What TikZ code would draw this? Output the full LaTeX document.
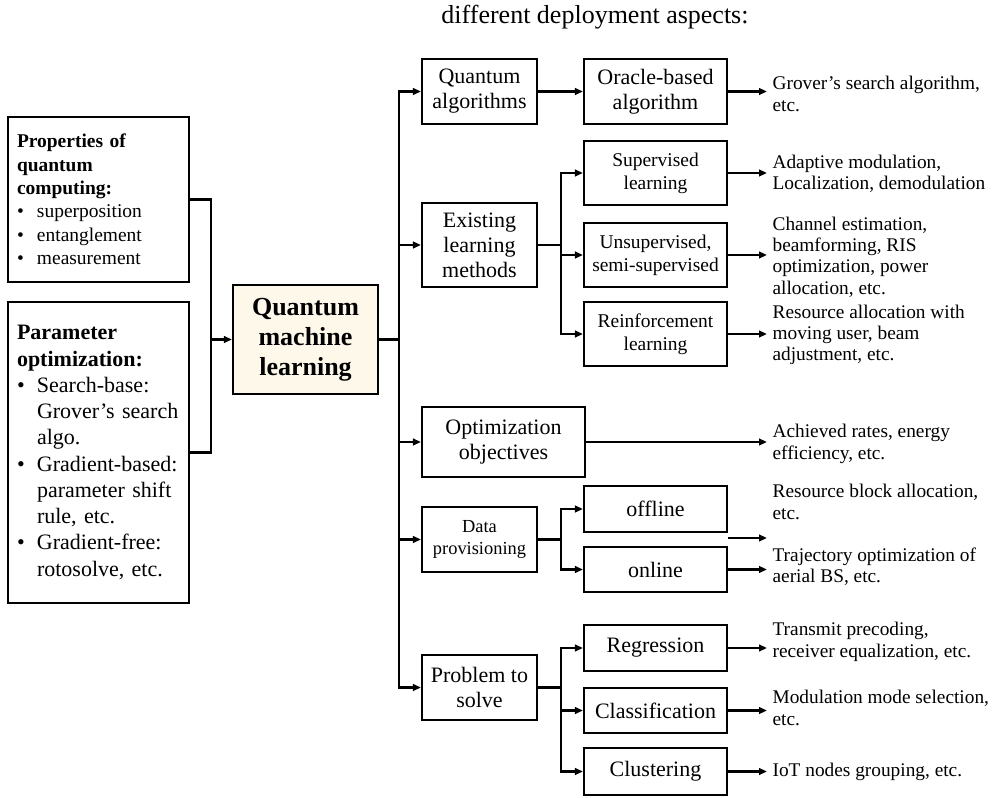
\documentclass[tikz,border=0pt]{standalone}
\usepackage{fontspec}
\setmainfont{Liberation Serif}
\usetikzlibrary{arrows.meta}

\definecolor{qmlcream}{RGB}{253,248,233}
\newcommand{\qbul}{\makebox[15pt][l]{\textbullet}}
\newcommand{\qind}{\hspace*{15pt}}

\tikzset{
  qbox/.style={draw, line width=1.6pt, inner sep=0pt, align=center},
  boxsize/.style 2 args={minimum width=#1*0.75pt, minimum height=#2*0.75pt},
  bigtxt/.style={font=\fontsize{16.5}{18.75}\selectfont},
  smalltxt/.style={font=\fontsize{14.6}{17.3}\selectfont},
  outtxt/.style={anchor=west, inner xsep=4pt, inner ysep=0pt, align=left, font=\fontsize{14.5}{16}\selectfont},
  conn/.style={line width=1.6pt},
  arr/.style={conn, -{Triangle[length=6pt,width=5pt]}},
}

\begin{document}
\begin{tikzpicture}[x=0.75pt,y=0.75pt,yscale=-1,xscale=1]
\useasboundingbox (0,0) rectangle (997,798);

% Text Node
\node (title) at (595,17) [font=\fontsize{19.5}{22}\selectfont] {different deployment aspects:};

%Shape: Rectangle [left inputs]
\node (props) at (98.5,199.5) [qbox, boxsize={181}{165}, text width=122.25pt, align=left, font=\fontsize{14.6}{17.5}\selectfont]
  {\textbf{Properties of}\\ \textbf{quantum}\\ \textbf{computing:}\\ \qbul superposition\\ \qbul entanglement\\ \qbul measurement};
\node (param) at (98.5,452.5) [qbox, boxsize={181}{301}, text width=122.25pt, align=left, font=\fontsize{16.5}{19.7}\selectfont]
  {\textbf{Parameter}\\ \textbf{optimization:}\\ \qbul Search-base:\\ \qind Grover's search\\ \qind algo.\\ \qbul Gradient-based:\\ \qind parameter shift\\ \qind rule, etc.\\ \qbul Gradient-free:\\ \qind rotosolve, etc.};

%Shape: Rectangle [centre]
\node (qml) at (305.5,339.5) [qbox, boxsize={145}{109}, fill=qmlcream, font=\bfseries\fontsize{19.5}{22.5}\selectfont] {Quantum\\ machine\\ learning};

%Shape: Rectangle [aspects]
\node (qalg) at (479.5,91.5) [qbox, boxsize={115}{65}, bigtxt] {Quantum\\ algorithms};
\node (exist) at (479.5,245) [qbox, boxsize={115}{84}, bigtxt] {Existing\\ learning\\ methods};
\node (optobj) at (503.5,442) [qbox, boxsize={163}{70}, bigtxt] {Optimization\\ objectives};
\node (data) at (479.5,539.5) [qbox, boxsize={115}{65}, font=\fontsize{13.8}{16.5}\selectfont] {Data\\ provisioning};
\node (prob) at (479.5,687.5) [qbox, boxsize={115}{65}, bigtxt] {Problem to\\ solve};

%Shape: Rectangle [sub aspects]
\node (oracle) at (655.5,91.5) [qbox, boxsize={143}{65}, bigtxt] {Oracle-based\\ algorithm};
\node (sup) at (655.5,173) [qbox, boxsize={143}{64}, smalltxt] {Supervised\\ learning};
\node (unsup) at (655.5,255) [qbox, boxsize={143}{64}, smalltxt] {Unsupervised,\\ semi-supervised};
\node (reinf) at (655.5,334) [qbox, boxsize={143}{64}, smalltxt] {Reinforcement\\ learning};
\node (offline) at (655.5,509) [qbox, boxsize={143}{46}, bigtxt] {offline};
\node (online) at (655.5,569.5) [qbox, boxsize={143}{45}, bigtxt] {online};
\node (regr) at (655.5,648) [qbox, boxsize={143}{46}, bigtxt] {Regression};
\node (classif) at (655.5,710.5) [qbox, boxsize={143}{45}, bigtxt] {Classification};
\node (clust) at (655.5,771.5) [qbox, boxsize={143}{47}, bigtxt] {Clustering};

% Text Node [applications]
\node (grover) at (767,94) [outtxt] {Grover's search algorithm,\\ etc.};
\node (adapt) at (767,174) [outtxt] {Adaptive modulation,\\ Localization, demodulation};
\node (chan) at (767,257) [outtxt] {Channel estimation,\\ beamforming, RIS\\ optimization, power\\ allocation, etc.};
\node (resmov) at (767,335) [outtxt] {Resource allocation with\\ moving user, beam\\ adjustment, etc.};
\node (rates) at (767,444) [outtxt] {Achieved rates, energy\\ efficiency, etc.};
\node (resblk) at (767,502) [outtxt] {Resource block allocation,\\ etc.};
\node (traj) at (767,567) [outtxt] {Trajectory optimization of\\ aerial BS, etc.};
\node (precod) at (767,642) [outtxt] {Transmit precoding,\\ receiver equalization, etc.};
\node (modsel) at (767,708) [outtxt] {Modulation mode selection,\\ etc.};
\node (iot) at (767,772) [outtxt] {IoT nodes grouping, etc.};

%Straight Lines [junctions]
\coordinate (lj) at (211,339.5);
\coordinate (trunk) at (399,339.5);
\coordinate (exb) at (561,245);
\coordinate (dpb) at (561,539.5);
\coordinate (pbb) at (561,687.5);
\coordinate (offfree) at (728,538);

% left side into the centre
\draw [conn] (props.east) -| (lj);
\draw [conn] (param.east) -| (lj);
\draw [arr] (lj) -- (qml.west);

% trunk
\draw [conn] (qml.east) -- (trunk);
\draw [arr] (trunk) |- (qalg.west);
\draw [arr] (trunk) |- (exist.west);
\draw [arr] (trunk) |- (optobj.west);
\draw [arr] (trunk) |- (data.west);
\draw [arr] (trunk) |- (prob.west);

% branches
\draw [arr] (qalg.east) -- (oracle.west);
\draw [conn] (exist.east) -- (exb);
\draw [arr] (exb) |- (sup.west);
\draw [arr] (exb) |- (unsup.west);
\draw [arr] (exb) |- (reinf.west);
\draw [conn] (data.east) -- (dpb);
\draw [arr] (dpb) |- (offline.west);
\draw [arr] (dpb) |- (online.west);
\draw [conn] (prob.east) -- (pbb);
\draw [arr] (pbb) |- (regr.west);
\draw [arr] (pbb) |- (classif.west);
\draw [arr] (pbb) |- (clust.west);

% out to the applications
\draw [arr] (oracle.east) -- (oracle.east -| grover.west);
\draw [arr] (sup.east) -- (sup.east -| adapt.west);
\draw [arr] (unsup.east) -- (unsup.east -| chan.west);
\draw [arr] (reinf.east) -- (reinf.east -| resmov.west);
\draw [arr] (optobj.east) -- (optobj.east -| rates.west);
\draw [arr] (offfree) -- (offfree -| resblk.west);
\draw [arr] (online.east) -- (online.east -| traj.west);
\draw [arr] (regr.east) -- (regr.east -| precod.west);
\draw [arr] (classif.east) -- (classif.east -| modsel.west);
\draw [arr] (clust.east) -- (clust.east -| iot.west);

\end{tikzpicture}
\end{document}
